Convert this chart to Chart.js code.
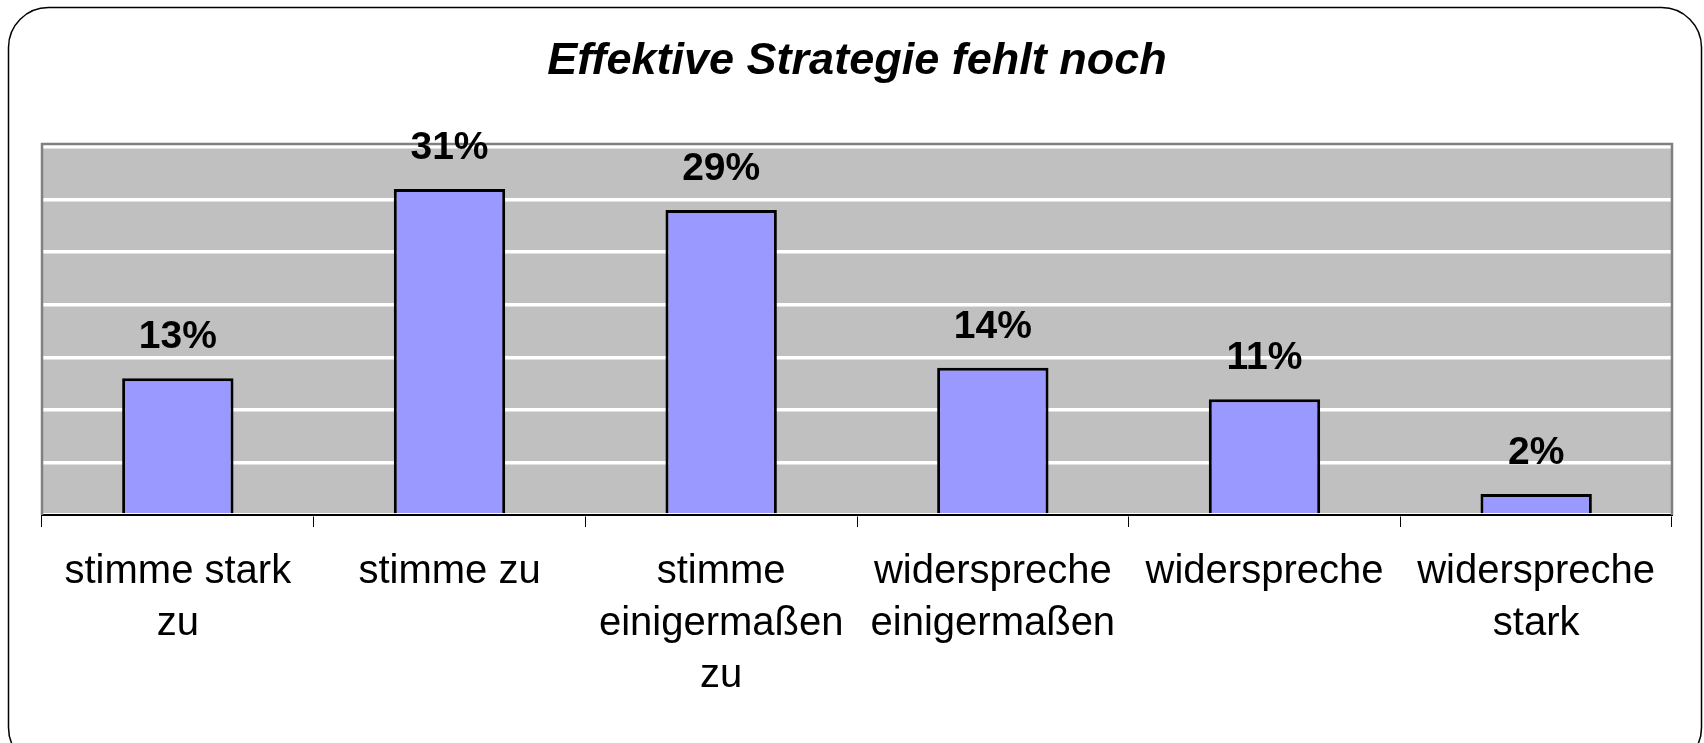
<!DOCTYPE html>
<html>
<head>
<meta charset="utf-8">
<script src="https://cdn.jsdelivr.net/npm/chart.js@4"></script>
<style>
  html, body { margin: 0; padding: 0; background: #fff; }
  canvas { display: block; }
</style>
</head>
<body>
<canvas id="surveyChart" width="1704" height="743"></canvas>
<script>
  const categories = [
    ['stimme stark', 'zu'],
    'stimme zu',
    ['stimme', 'einigermaßen', 'zu'],
    ['widerspreche', 'einigermaßen'],
    'widerspreche',
    ['widerspreche', 'stark']
  ];
  const shares = [13, 31, 29, 14, 11, 2];
  const yMax = 35;
  const yStep = 5;

  const FONT = '"Liberation Sans", Arial, sans-serif';

  // rounded frame around the whole chart + grey plot background
  const framePlugin = {
    id: 'frame',
    beforeDraw(chart) {
      const { ctx, chartArea: a } = chart;
      ctx.save();
      ctx.fillStyle = '#fff';
      ctx.fillRect(0, 0, chart.width, chart.height);
      ctx.lineWidth = 1.5;
      ctx.strokeStyle = '#000';
      ctx.beginPath();
      ctx.roundRect(8.5, 7.5, 1693, 760, 40);
      ctx.stroke();
      ctx.fillStyle = '#c0c0c0';
      ctx.fillRect(a.left, a.top - 3, a.right - a.left, a.bottom - a.top + 3);
      ctx.restore();
    },
    afterDatasetsDraw(chart) {
      const { ctx, chartArea: a } = chart;
      ctx.save();
      ctx.strokeStyle = '#808080';
      ctx.lineWidth = 2.5;
      ctx.beginPath();
      ctx.moveTo(a.left, a.bottom);
      ctx.lineTo(a.left, a.top - 3);
      ctx.lineTo(a.right, a.top - 3);
      ctx.lineTo(a.right, a.bottom);
      ctx.stroke();
      ctx.restore();
    }
  };

  // percentage above each bar
  const valueLabels = {
    id: 'valueLabels',
    afterDatasetsDraw(chart) {
      const { ctx } = chart;
      const meta = chart.getDatasetMeta(0);
      ctx.save();
      ctx.font = 'bold 39px ' + FONT;
      ctx.fillStyle = '#000';
      ctx.textAlign = 'center';
      ctx.textBaseline = 'alphabetic';
      meta.data.forEach((bar, i) => {
        ctx.fillText(shares[i] + '%', bar.x, bar.y - 30);
      });
      ctx.restore();
    }
  };

  new Chart(document.getElementById('surveyChart'), {
    type: 'bar',
    data: {
      labels: categories,
      datasets: [{
        data: shares,
        backgroundColor: '#9999ff',
        borderColor: '#000',
        borderWidth: 3,
        categoryPercentage: 1,
        barPercentage: 0.41
      }]
    },
    options: {
      responsive: false,
      animation: false,
      layout: { padding: { left: 42, right: 32, top: 0, bottom: 0 } },
      plugins: {
        legend: { display: false },
        tooltip: { enabled: false },
        title: {
          display: true,
          text: 'Effektive Strategie fehlt noch',
          color: '#000',
          font: { family: FONT, size: 45, weight: 'bold', style: 'italic', lineHeight: 1.2 },
          padding: { top: 35, bottom: 58 }
        }
      },
      scales: {
        x: {
          grid: {
            drawOnChartArea: false,
            drawTicks: true,
            tickLength: 12,
            color: '#000',
            lineWidth: 1
          },
          border: { display: true, color: '#000', width: 2 },
          ticks: {
            color: '#000',
            maxRotation: 0,
            autoSkip: false,
            padding: 19,
            font: { family: FONT, size: 40, lineHeight: 1.3 }
          },
          afterFit(scale) { scale.height = 228; }
        },
        y: {
          min: 0,
          max: yMax,
          ticks: { display: false, stepSize: yStep },
          grid: { color: '#fff', lineWidth: 3.5, drawTicks: false },
          border: { display: false },
          afterFit(scale) { scale.width = 0; }
        }
      }
    },
    plugins: [framePlugin, valueLabels]
  });
</script>
</body>
</html>
